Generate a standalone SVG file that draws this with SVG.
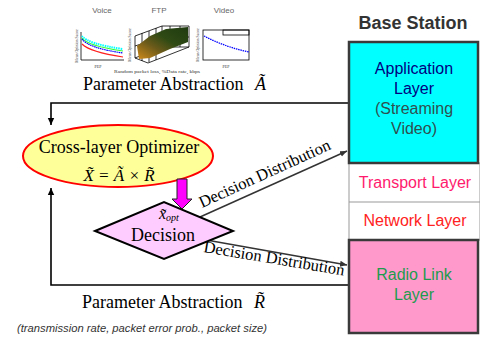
<svg xmlns="http://www.w3.org/2000/svg" width="480" height="343" viewBox="0 0 480 343">
<style>
.serif{font-family:"Liberation Serif","Times New Roman",serif;}
.sans{font-family:"Liberation Sans",Arial,sans-serif;}
.frame{fill:none;stroke:#000;stroke-width:1.6;}
.dist{fill:none;stroke:#333;stroke-width:1.5;}
.ct{font-family:"Liberation Sans",Arial,sans-serif;font-size:8px;fill:#666;text-anchor:middle;}
.tiny{font-family:"Liberation Serif","Times New Roman",serif;font-size:4px;fill:#333;text-anchor:middle;}
.ax{fill:none;stroke:#000;stroke-width:0.8;}
</style>
<defs>
<marker id="ah" markerWidth="8" markerHeight="8" refX="7" refY="4" orient="auto" markerUnits="userSpaceOnUse">
<path d="M0,0.8 L7,4 L0,7.2 Z" fill="#000"/>
</marker>
<marker id="ah2" markerWidth="8" markerHeight="8" refX="7" refY="4" orient="auto" markerUnits="userSpaceOnUse">
<path d="M0,1 L7,4 L0,7 Z" fill="#333"/>
</marker>
<linearGradient id="surf" x1="0" y1="1" x2="1" y2="0">
<stop offset="0" stop-color="#d08a1a"/>
<stop offset="0.35" stop-color="#6b5a1a"/>
<stop offset="0.6" stop-color="#2f4a14"/>
<stop offset="1" stop-color="#1f3a10"/>
</linearGradient>
</defs>
<rect width="480" height="343" fill="#fff"/>

<!-- charts -->
<g id="chart-voice">
<text class="ct" x="102" y="13">Voice</text>
<text class="tiny" transform="translate(78,46) rotate(-90)">Mean Opinion Score</text>
<path class="ax" d="M81,32 V60 H124"/>
<path d="M82,36 Q88,44 123,49" fill="none" stroke="#00ffff" stroke-width="2" stroke-dasharray="1.5,0.8"/>
<path d="M82,38 Q88,46 123,51" fill="none" stroke="#33ff33" stroke-width="1.2"/>
<path d="M82,39 Q88,48 123,53" fill="none" stroke="#0000ff" stroke-width="1.2" stroke-dasharray="1.5,0.6"/>
<path d="M82,44 Q90,52 123,57" fill="none" stroke="#ff2020" stroke-width="1.2"/>
<text class="tiny" x="98" y="68">PEP</text>
</g>
<g id="chart-ftp">
<text class="ct" x="159" y="13">FTP</text>
<text class="tiny" transform="translate(131,45) rotate(-90)">Mean Opinion Score</text>
<path class="ax" d="M135,36 L162,26 L189,26 L189,47 L162,47 L135,58 Z M162,26 V47 M135,58 L148,63 L189,47" stroke-width="0.6"/>
<path class="ax" d="M142,33 V61 M149,31 V62 M156,28 V60 M170,26 V47 M180,26 V47 M135,46 L162,37 L189,37" stroke-width="0.4"/>
<path d="M137,46 L150,36 L166,29 L188,27 L188,42 L170,49 L150,58 L139,59 Z" fill="url(#surf)"/>
<text class="tiny" x="157" y="73" textLength="86" lengthAdjust="spacingAndGlyphs" font-size="5">Random packet loss, %Data rate, kbps</text>
</g>
<g id="chart-video">
<text class="ct" x="224" y="13">Video</text>
<text class="tiny" transform="translate(199,45) rotate(-90)">Mean Opinion Score</text>
<rect x="203" y="30" width="46" height="30" class="ax"/>
<rect x="223" y="30" width="26" height="5" class="ax" stroke-width="0.6"/>
<path d="M204,36 Q225,47 249,52" fill="none" stroke="#0000ff" stroke-width="1.3" stroke-dasharray="1.5,0.8"/>
<text class="tiny" x="226" y="68">PEP</text>
</g>

<g id="label-param-a">
<text class="serif" x="83" y="90" font-size="18" fill="#000">Parameter Abstraction<tspan x="255" font-style="italic">Ã</tspan></text>
</g>

<!-- connectors -->
<g id="connectors">
<polyline class="frame" points="348,103 51,103 51,125" marker-end="url(#ah)"/>
<polyline class="frame" points="348,285 51,285 51,188" marker-end="url(#ah)"/>
<line class="dist" x1="200" y1="217" x2="347" y2="151" marker-end="url(#ah2)"/>
<line class="dist" x1="195" y1="238" x2="347" y2="265" marker-end="url(#ah2)"/>
<text class="serif" font-size="16.5" fill="#000" transform="translate(202,208) rotate(-24.5)">Decision Distribution</text>
<text class="serif" font-size="16.5" fill="#000" transform="translate(203,252) rotate(9.5)">Decision Distribution</text>
</g>

<g id="optimizer">
<ellipse cx="118" cy="156" rx="95" ry="31" fill="#ffff99" stroke="#ff0000" stroke-width="2"/>
<text class="serif" x="119" y="153" font-size="18" text-anchor="middle">Cross-layer Optimizer</text>
<text class="serif" font-size="17" font-style="italic" x="119" y="181" text-anchor="middle" xml:space="preserve">X̃ = Ã × R̃</text>
</g>

<g id="magenta-arrow">
<path d="M177,179 L187,179 L187,199 L192,199 L182,209 L172,199 L177,199 Z" fill="#ff00ff" stroke="#222" stroke-width="1"/>
</g>

<g id="decision">
<polygon points="95,231 164,202 233,231 164,259" fill="#ffccff" stroke="#000" stroke-width="2"/>
<text class="serif" font-style="italic" x="159" y="219" font-size="16">x̃<tspan dy="2" font-size="10">opt</tspan></text>
<text class="serif" x="163" y="241" font-size="18" text-anchor="middle">Decision</text>
</g>

<g id="label-param-r">
<text class="serif" x="82" y="308" font-size="18">Parameter Abstraction<tspan x="254" font-style="italic">R̃</tspan></text>
<text class="sans" x="17" y="332" font-size="11" font-style="italic" fill="#333" textLength="250" lengthAdjust="spacingAndGlyphs">(transmission rate, packet error prob., packet size)</text>
</g>

<g id="base-station">
<text class="sans" x="413" y="29" font-size="18" font-weight="bold" fill="#333" text-anchor="middle">Base Station</text>
</g>
<g id="transport-network">
<rect x="349" y="163" width="131" height="77" fill="#fff" stroke="#999" stroke-width="1"/>
<line x1="349" y1="202" x2="480" y2="202" stroke="#999" stroke-width="1"/>
<text class="sans" x="415" y="188" font-size="16" fill="#ff1a6e" text-anchor="middle">Transport Layer</text>
<text class="sans" x="415" y="226" font-size="16" fill="#ff2222" text-anchor="middle">Network Layer</text>
</g>
<g id="application-layer">
<rect x="349" y="42" width="129" height="121" fill="#00ffff" stroke="#3a3a3a" stroke-width="2.5"/>
<text class="sans" font-size="16" text-anchor="middle"><tspan x="414" y="74" fill="#000080">Application</tspan><tspan x="414" y="94" fill="#000080">Layer</tspan><tspan x="414" y="114" fill="#2f4f4f">(Streaming</tspan><tspan x="414" y="134" fill="#2f4f4f">Video)</tspan></text>
</g>
<g id="radio-link-layer">
<rect x="349" y="240" width="129" height="93" fill="#ff99cc" stroke="#3a3a3a" stroke-width="2.5"/>
<text class="sans" font-size="16" text-anchor="middle" fill="#1e9b4e"><tspan x="414" y="280">Radio Link</tspan><tspan x="414" y="300">Layer</tspan></text>
</g>
</svg>
